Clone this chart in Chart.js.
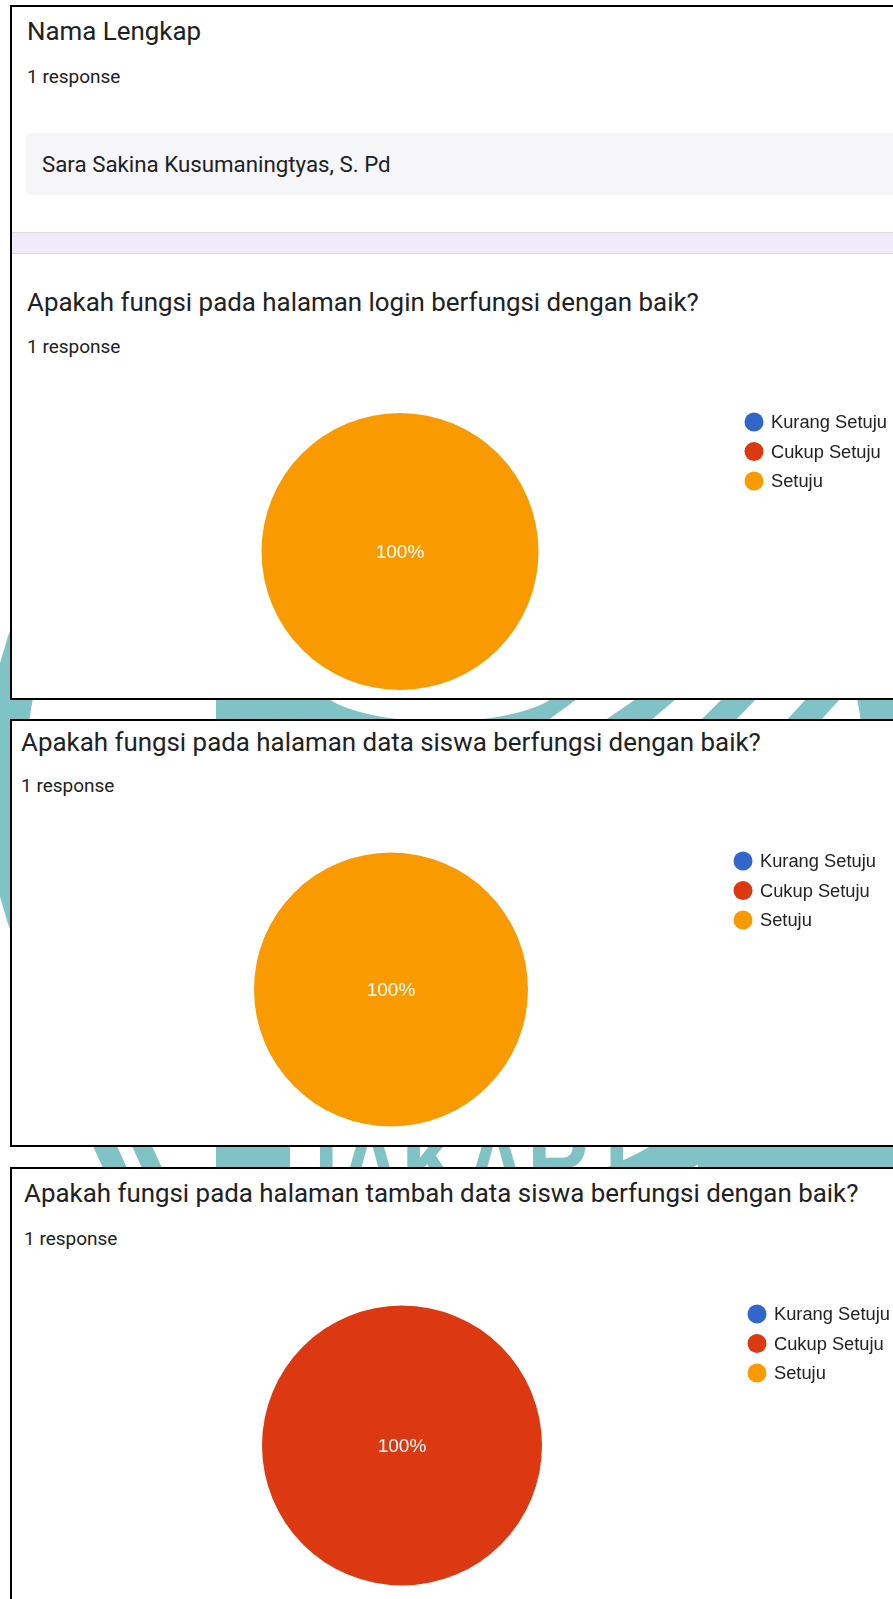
<!DOCTYPE html>
<html>
<head>
<meta charset="utf-8">
<script src="https://cdn.jsdelivr.net/npm/chart.js@4"></script>
<style>
  html, body { margin: 0; padding: 0; }
  body { width: 893px; height: 1599px; overflow: hidden; position: relative; background: #fff; font-family: Roboto, Arial, sans-serif; color: #202124; }
  .mark { position: absolute; left: 0; top: 0; }
  .panel { position: absolute; left: 10px; width: 1000px; background: #fff; border: 2px solid #000; }
  .txt { position: absolute; white-space: nowrap; line-height: 1; }
  .title { font-size: 25.9px; }
  .resp { font-size: 19px; }
  .answer { position: absolute; left: 26px; top: 133px; width: 900px; height: 62px; background: #f6f6f9; border-radius: 4px; }
  .band { position: absolute; left: 12px; top: 232px; width: 900px; height: 20px; background: #f0ebf8; border-top: 1px solid #dcdce0; border-bottom: 1px solid #dcdce0; }
  canvas { position: absolute; left: 0; }
</style>
</head>
<body>

<!-- watermark behind the screenshots -->
<svg class="mark" width="893" height="1599">
  <circle cx="445" cy="780" r="440" fill="none" stroke="#80c3c7" stroke-width="40"/>
  <rect x="140" y="1140" width="80" height="34" fill="#fff"/>
  <g fill="#80c3c7">
    <polygon points="216,699 577,699 547,721 216,721"/>
    <polygon points="636,699 676,699 650,721 604,721"/>
    <polygon points="722,699 756,699 735,721 700,721"/>
    <polygon points="806,699 840,699 820,721 786,721"/>
    <polygon points="882,699 900,699 900,721 863,721"/>
    <polygon points="93,1146 117,1146 127,1168 103,1168"/>
    <polygon points="132,1146 152,1146 162,1168 142,1168"/>
    <rect x="216" y="1146" width="74" height="22"/>
    <rect x="698" y="1146" width="200" height="22"/>
    <text x="290" y="1199" font-family="Liberation Sans, Arial" font-weight="bold" font-size="110" textLength="410" lengthAdjust="spacingAndGlyphs">JAKARTA</text>
  </g>
  <ellipse cx="440" cy="681.5" rx="124" ry="40" fill="#fff"/>
</svg>

<div class="panel" style="top:5px;height:691px;"></div>
<div class="panel" style="top:719px;height:424px;"></div>
<div class="panel" style="top:1167px;height:600px;"></div>

<div class="answer"></div>
<div class="band"></div>

<div class="txt title" style="left:27px;top:19px;">Nama Lengkap</div>
<div class="txt resp" style="left:27px;top:67px;">1 response</div>
<div class="txt" style="left:42px;top:153.3px;font-size:22.3px;">Sara Sakina Kusumaningtyas, S. Pd</div>

<div class="txt title" id="t1" style="left:27px;top:290px;"></div>
<div class="txt resp" style="left:27px;top:337px;">1 response</div>
<div class="txt title" id="t2" style="left:21px;top:730px;"></div>
<div class="txt resp" style="left:21px;top:775.5px;">1 response</div>
<div class="txt title" id="t3" style="left:24px;top:1181px;"></div>
<div class="txt resp" style="left:24px;top:1229px;">1 response</div>

<canvas id="pie1" style="top:380px;" width="893" height="316"></canvas>
<canvas id="pie2" style="top:830px;" width="893" height="312"></canvas>
<canvas id="pie3" style="top:1280px;" width="893" height="319"></canvas>

<script>
const answerLabels = ["Kurang Setuju", "Cukup Setuju", "Setuju"];
const answerColors = ["#3366cc", "#dc3912", "#f99a00"];

const questions = [
	"Apakah fungsi pada halaman login berfungsi dengan baik?",
	"Apakah fungsi pada halaman data siswa berfungsi dengan baik?",
	"Apakah fungsi pada halaman tambah data siswa berfungsi dengan baik?",
];

const loginCounts = [0, 0, 1];
const dataSiswaCounts = [0, 0, 1];
const tambahSiswaCounts = [0, 1, 0];

// legend drawn to the right of the pie, like google forms
const sideLegend = {
	id: "sideLegend",
	afterDraw(chart) {
		const ctx = chart.ctx;
		const area = chart.chartArea;
		const colors = chart.data.datasets[0].backgroundColor;
		const x = area.right + 215;
		ctx.save();
		ctx.font = "18.3px 'Liberation Sans', Arial";
		ctx.textBaseline = "middle";
		chart.data.labels.forEach((label, i) => {
			const y = area.top + 9 + i * 29.5;
			ctx.fillStyle = colors[i];
			ctx.beginPath();
			ctx.arc(x, y, 9.5, 0, Math.PI * 2);
			ctx.fill();
			ctx.fillStyle = "#222";
			ctx.fillText(label, x + 17, y + 1);
		});
		ctx.restore();
	},
};

// percentage text on the slices
const sliceText = {
	id: "sliceText",
	afterDatasetsDraw(chart) {
		const ctx = chart.ctx;
		const values = chart.data.datasets[0].data;
		const total = values.reduce((a, b) => a + b, 0);
		ctx.save();
		ctx.font = "19px 'Liberation Sans', Arial";
		ctx.fillStyle = "#fff";
		ctx.textAlign = "center";
		ctx.textBaseline = "middle";
		chart.getDatasetMeta(0).data.forEach((arc, i) => {
			if (!values[i]) return;
			const pct = Math.round((values[i] / total) * 100);
			const pos = pct === 100 ? { x: arc.x, y: arc.y } : arc.tooltipPosition();
			ctx.fillText(pct + "%", pos.x, pos.y + 1);
		});
		ctx.restore();
	},
};

function makePie(id, counts, padding) {
	return new Chart(document.getElementById(id), {
		type: "pie",
		data: {
			labels: answerLabels,
			datasets: [
				{
					data: counts,
					backgroundColor: answerColors,
					borderWidth: 0,
				},
			],
		},
		options: {
			responsive: false,
			animation: false,
			layout: { padding },
			plugins: {
				legend: { display: false },
				tooltip: { enabled: false },
			},
		},
		plugins: [sideLegend, sliceText],
	});
}

document.getElementById("t1").textContent = questions[0];
document.getElementById("t2").textContent = questions[1];
document.getElementById("t3").textContent = questions[2];

makePie("pie1", loginCounts, { left: 261, right: 354, top: 33, bottom: 6 });
makePie("pie2", dataSiswaCounts, { left: 254, right: 365, top: 22, bottom: 15 });
makePie("pie3", tambahSiswaCounts, { left: 262, right: 351, top: 25, bottom: 13 });
</script>
</body>
</html>
